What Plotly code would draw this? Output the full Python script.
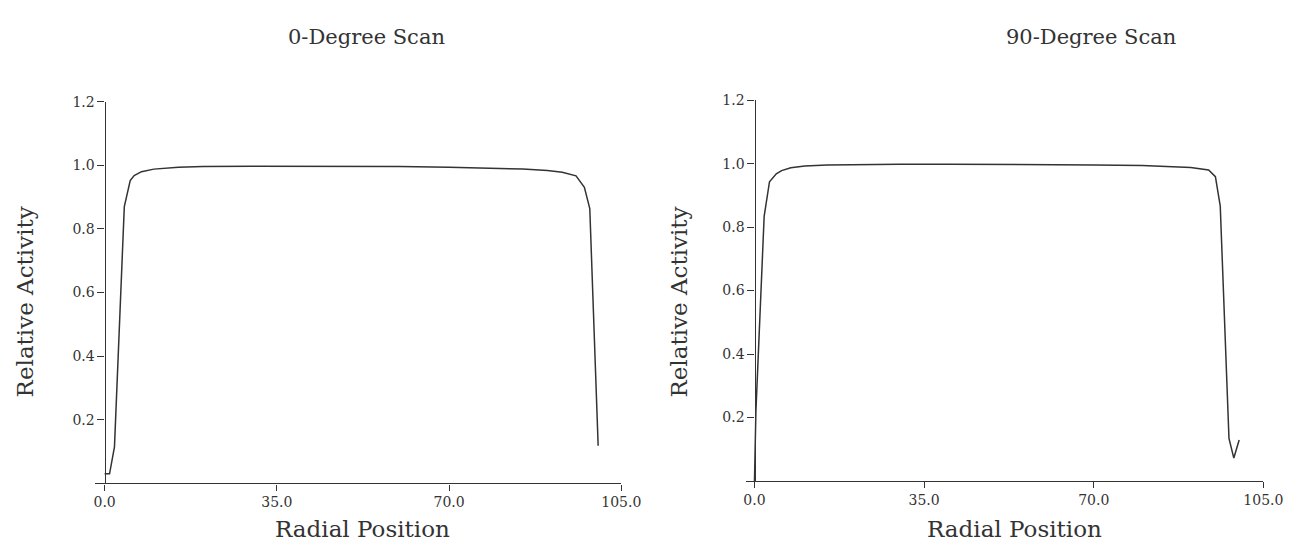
import plotly.graph_objects as go

# ---- data ----
x_0deg = [0, 1.0, 2.0, 4.0, 5.2, 6.0, 7.5, 10, 15, 20, 30, 40, 50, 60, 70, 80, 85, 90, 93, 95.8, 97.5, 98.6, 100.3]
y_0deg = [0.03, 0.03, 0.115, 0.87, 0.952, 0.968, 0.98, 0.988, 0.994, 0.996, 0.997, 0.997, 0.997, 0.996, 0.994, 0.991, 0.988, 0.984, 0.978, 0.967, 0.931, 0.864, 0.118]

x_90deg = [0, 0.3, 2.0, 3.1, 4.5, 5.6, 7.5, 10.4, 15, 20, 30, 40, 50, 60, 70, 80, 85, 90, 93.7, 95.1, 96.1, 97.9, 98.9, 100.0]
y_90deg = [0.0, 0.22, 0.834, 0.943, 0.968, 0.978, 0.987, 0.993, 0.996, 0.997, 0.998, 0.998, 0.998, 0.997, 0.996, 0.994, 0.992, 0.988, 0.98, 0.959, 0.866, 0.134, 0.072, 0.129]

x_ticks = [0, 35, 70, 105]
x_tick_labels = ["0.0", "35.0", "70.0", "105.0"]
y_ticks = [0.2, 0.4, 0.6, 0.8, 1.0, 1.2]
y_tick_labels = ["0.2", "0.4", "0.6", "0.8", "1.0", "1.2"]

titles = ["0-Degree Scan", "90-Degree Scan"]
x_title = "Radial Position"
y_title = "Relative Activity"

PAGE_W, PAGE_H = 1313, 549
OFF = 8  # default body margin of the page
W, H = PAGE_W - 2 * OFF, PAGE_H - 2 * OFF
INK = "#333333"
FONT = "DejaVu Serif"

fig = go.Figure()
fig.add_trace(go.Scatter(x=x_0deg, y=y_0deg, mode="lines", line=dict(color=INK, width=1.5),
                         xaxis="x", yaxis="y", showlegend=False))
fig.add_trace(go.Scatter(x=x_90deg, y=y_90deg, mode="lines", line=dict(color=INK, width=1.5),
                         xaxis="x2", yaxis="y2", showlegend=False))

def px_x(p):
    return (p - OFF) / W

def px_y(p):
    return (H - (p - OFF)) / H

axis_common = dict(showgrid=False, zeroline=False, showline=True, linecolor=INK, linewidth=1.3,
                   ticks="outside", tickcolor=INK, tickwidth=1.3,
                   tickfont=dict(family=FONT, size=14, color=INK))

fig.update_layout(
    width=W, height=H,
    margin=dict(l=0, r=0, t=0, b=0),
    paper_bgcolor="white", plot_bgcolor="white",
    xaxis=dict(domain=[px_x(93.3), px_x(629.3)], range=[-2, 105], anchor="y",
               tickvals=x_ticks, ticktext=x_tick_labels, ticklen=6, **axis_common),
    yaxis=dict(domain=[px_y(482.5), px_y(95)], range=[0, 1.2], anchor="free",
               position=px_x(103.3), tickvals=y_ticks, ticktext=y_tick_labels, ticklen=7,
               **axis_common),
    xaxis2=dict(domain=[px_x(756.5), px_x(1283)], range=[-1.7, 105], anchor="y2",
                tickvals=x_ticks, ticktext=x_tick_labels, ticklen=6, **axis_common),
    yaxis2=dict(domain=[px_y(480), px_y(93.5)], range=[0, 1.2], anchor="free",
                position=px_x(765), tickvals=y_ticks, ticktext=y_tick_labels, ticklen=7,
                **axis_common),
)

ann = []
for cx, text in zip([370, 1108], titles):
    ann.append(dict(x=px_x(cx), y=px_y(29), xref="paper", yref="paper", text=text,
                    showarrow=False, font=dict(family=FONT, size=21, color=INK),
                    xanchor="center", yanchor="middle"))
for cx in [366, 1030]:
    ann.append(dict(x=px_x(cx), y=px_y(529), xref="paper", yref="paper", text=x_title,
                    showarrow=False, font=dict(family=FONT, size=23, color=INK),
                    xanchor="center", yanchor="middle"))
for cx in [22, 688]:
    ann.append(dict(x=px_x(cx), y=px_y(298), xref="paper", yref="paper", text=y_title,
                    showarrow=False, textangle=-90, font=dict(family=FONT, size=23, color=INK),
                    xanchor="center", yanchor="middle"))
fig.update_layout(annotations=ann)

fig.write_html("out.html")
